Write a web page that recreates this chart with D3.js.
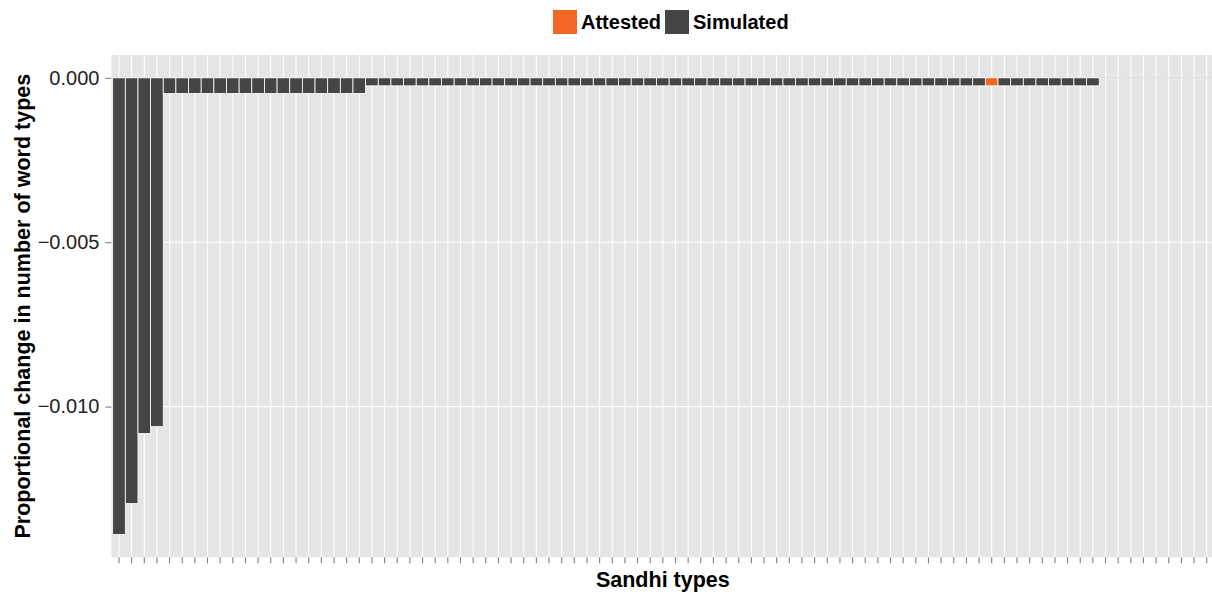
<!DOCTYPE html>
<html>
<head>
<meta charset="utf-8">
<script src="https://cdn.jsdelivr.net/npm/d3@7"></script>
<style>
  html, body { margin: 0; padding: 0; background: #fff; }
  svg { display: block; font-family: "Liberation Sans", Arial, sans-serif; }
</style>
</head>
<body>
<svg id="chart" width="1212" height="592"></svg>
<script>
// Change in number of word types per sandhi type, ranked from largest drop
const sandhiTypes = d3.range(1, 88).map(i => "S" + i);

const changeValues = [
  -0.01389, -0.01295, -0.01082, -0.01061,
  // 16 types with a drop of about two words
  -0.000474, -0.000474, -0.000474, -0.000474, -0.000474, -0.000474, -0.000474, -0.000474,
  -0.000474, -0.000474, -0.000474, -0.000474, -0.000474, -0.000474, -0.000474, -0.000474,
  // 58 types with a drop of about one word
  -0.000243, -0.000243, -0.000243, -0.000243, -0.000243, -0.000243, -0.000243, -0.000243, -0.000243, -0.000243,
  -0.000243, -0.000243, -0.000243, -0.000243, -0.000243, -0.000243, -0.000243, -0.000243, -0.000243, -0.000243,
  -0.000243, -0.000243, -0.000243, -0.000243, -0.000243, -0.000243, -0.000243, -0.000243, -0.000243, -0.000243,
  -0.000243, -0.000243, -0.000243, -0.000243, -0.000243, -0.000243, -0.000243, -0.000243, -0.000243, -0.000243,
  -0.000243, -0.000243, -0.000243, -0.000243, -0.000243, -0.000243, -0.000243, -0.000243, -0.000243, -0.000243,
  -0.000243, -0.000243, -0.000243, -0.000243, -0.000243, -0.000243, -0.000243, -0.000243,
  // no change
  0, 0, 0, 0, 0, 0, 0, 0, 0
];

// index 69 is the attested sandhi type, all others are simulated
const sourceLabels = changeValues.map((v, i) => i === 69 ? "Attested" : "Simulated");

const legendLabels = ["Attested", "Simulated"];
const legendColors = ["#f26522", "#444545"];

const yTickValues = [0, -0.005, -0.010];

const svg = d3.select("#chart");
const panel = { left: 111.4, right: 1214.3, top: 55, bottom: 557.3 };

const x = d3.scaleBand()
  .domain(sandhiTypes)
  .range([panel.left, panel.right])
  .paddingInner(0)
  .paddingOuter(0.1);

// data range padded by 5% on each side
const minV = d3.min(changeValues), maxV = d3.max(changeValues);
const pad = (maxV - minV) * 0.05;
const y = d3.scaleLinear()
  .domain([minV - pad, maxV + pad])
  .range([panel.bottom, panel.top]);

const color = d3.scaleOrdinal().domain(legendLabels).range(legendColors);

// panel background
svg.append("rect")
  .attr("x", panel.left).attr("y", panel.top)
  .attr("width", panel.right - panel.left)
  .attr("height", panel.bottom - panel.top)
  .attr("fill", "#e5e5e5");

// grid lines
const grid = svg.append("g").attr("stroke", "#ffffff").attr("stroke-width", 1.1);
grid.selectAll("line.v").data(sandhiTypes).join("line")
  .attr("class", "v")
  .attr("x1", d => x(d) + x.bandwidth() / 2)
  .attr("x2", d => x(d) + x.bandwidth() / 2)
  .attr("y1", panel.top).attr("y2", panel.bottom);
grid.selectAll("line.h").data(yTickValues).join("line")
  .attr("class", "h")
  .attr("x1", panel.left).attr("x2", panel.right)
  .attr("y1", d => y(d)).attr("y2", d => y(d));

// bars
const rows = sandhiTypes.map((t, i) => ({ type: t, value: changeValues[i], source: sourceLabels[i] }));
const bars = svg.append("g");
bars.selectAll("rect").data(rows.filter(d => d.value !== 0)).join("rect")
  .attr("x", d => x(d.type))
  .attr("width", x.bandwidth())
  .attr("y", d => y(Math.max(0, d.value)))
  .attr("height", d => Math.abs(y(d.value) - y(0)))
  .attr("fill", d => color(d.source))
  .attr("stroke", "#ffffff")
  .attr("stroke-width", 0.8);
// zero-height bars render as a thin outline on the zero line
bars.selectAll("line").data(rows.filter(d => d.value === 0)).join("line")
  .attr("x1", d => x(d.type)).attr("x2", d => x(d.type) + x.bandwidth())
  .attr("y1", d => y(d.value)).attr("y2", d => y(d.value))
  .attr("stroke", "#d2d2d2").attr("stroke-width", 1);

// x axis ticks (no labels)
const xAxis = d3.axisBottom(x).tickSize(6).tickFormat("");
const gx = svg.append("g").attr("transform", `translate(0,${panel.bottom})`).call(xAxis);
gx.select(".domain").remove();
gx.selectAll(".tick line").attr("stroke", "#7f7f7f").attr("stroke-width", 1.1);

// y axis
const yAxis = d3.axisLeft(y).tickValues(yTickValues).tickSize(6).tickPadding(6)
  .tickFormat(d => d3.format(".3f")(d).replace("-", "\u2212"));
const gy = svg.append("g").attr("transform", `translate(${panel.left},0)`).call(yAxis);
gy.select(".domain").remove();
gy.selectAll(".tick line").attr("stroke", "#7f7f7f").attr("stroke-width", 1.1);
gy.selectAll(".tick text")
  .attr("font-size", 20).attr("fill", "#222").attr("font-family", "Liberation Sans, Arial, sans-serif");

// axis titles
svg.append("text")
  .attr("x", (panel.left + panel.right) / 2).attr("y", 587)
  .attr("text-anchor", "middle")
  .attr("font-size", 21.5).attr("font-weight", "bold")
  .text("Sandhi types");

svg.append("text")
  .attr("transform", `translate(30,${(panel.top + panel.bottom) / 2}) rotate(-90)`)
  .attr("text-anchor", "middle")
  .attr("font-size", 21.5).attr("font-weight", "bold")
  .text("Proportional change in number of word types");

// legend
const legend = svg.append("g").attr("transform", "translate(553,10)");
let lx = 0;
legendLabels.forEach(label => {
  legend.append("rect").attr("x", lx).attr("y", 0).attr("width", 24).attr("height", 24)
    .attr("fill", color(label));
  const t = legend.append("text").attr("x", lx + 28).attr("y", 12).attr("dy", "0.36em")
    .attr("font-size", 20).attr("font-weight", "bold").text(label);
  lx += 28 + t.node().getComputedTextLength() + 4;
});
</script>
</body>
</html>
